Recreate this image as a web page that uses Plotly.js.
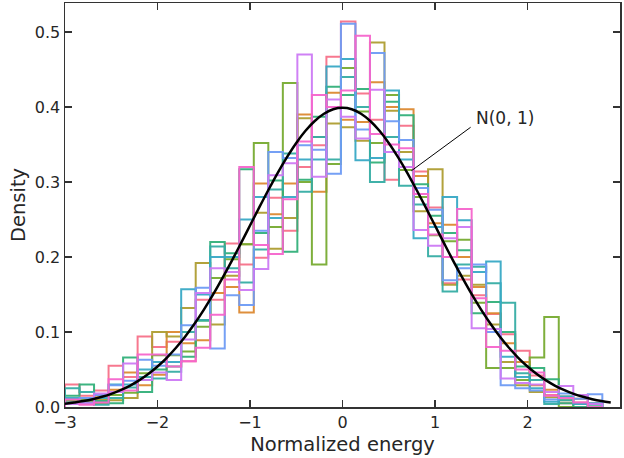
<!DOCTYPE html>
<html>
<head>
<meta charset="utf-8">
<script src="https://cdn.plot.ly/plotly-3.0.1.min.js"></script>
<style>html,body{margin:0;padding:0;background:#fff;}#chart{width:624px;height:458px;}</style>
</head>
<body>
<div id="chart"></div>
<script>
// Histogram bins (shared by all series)
const binStart = -3.0;
const binWidth = 0.157;
const binCount = 37;

// Series densities per bin
const pinkVals = [0.030,0.015,0.022,0.055,0.040,0.094,0.080,0.087,0.061,0.143,0.143,0.218,0.190,0.199,0.279,0.235,0.320,0.349,0.467,0.514,0.418,0.383,0.303,0.375,0.314,0.266,0.165,0.170,0.149,0.124,0.097,0.075,0.042,0.016,0.005,0.006,0.005];
const orangeVals = [0.010,0.008,0.015,0.023,0.046,0.029,0.043,0.100,0.085,0.089,0.152,0.160,0.126,0.298,0.257,0.298,0.390,0.287,0.419,0.383,0.380,0.433,0.400,0.397,0.308,0.245,0.243,0.200,0.160,0.125,0.085,0.060,0.029,0.023,0.009,0.011,0.000];
const oliveVals = [0.005,0.004,0.010,0.009,0.012,0.036,0.100,0.094,0.132,0.192,0.110,0.175,0.217,0.259,0.211,0.252,0.385,0.360,0.378,0.373,0.355,0.486,0.395,0.340,0.261,0.317,0.163,0.175,0.163,0.110,0.060,0.029,0.020,0.013,0.014,0.016,0.004];
const greenVals = [0.008,0.010,0.005,0.016,0.019,0.045,0.069,0.069,0.074,0.107,0.172,0.197,0.217,0.352,0.240,0.432,0.300,0.190,0.324,0.452,0.394,0.352,0.416,0.316,0.280,0.229,0.221,0.223,0.139,0.052,0.052,0.036,0.066,0.120,0.000,0.004,0.000];
const seaGreenVals = [0.015,0.030,0.008,0.005,0.066,0.020,0.050,0.054,0.067,0.115,0.220,0.205,0.317,0.232,0.302,0.207,0.303,0.387,0.427,0.416,0.424,0.326,0.407,0.389,0.297,0.255,0.232,0.209,0.125,0.140,0.100,0.054,0.052,0.037,0.005,0.000,0.003];
const tealVals = [0.025,0.020,0.003,0.012,0.026,0.040,0.038,0.047,0.100,0.116,0.214,0.185,0.166,0.210,0.290,0.338,0.287,0.360,0.330,0.440,0.400,0.300,0.360,0.295,0.270,0.201,0.154,0.190,0.187,0.165,0.139,0.045,0.036,0.004,0.009,0.005,0.000];
const cyanVals = [0.012,0.006,0.012,0.030,0.030,0.050,0.060,0.060,0.157,0.150,0.200,0.200,0.250,0.280,0.252,0.280,0.330,0.330,0.454,0.464,0.329,0.332,0.422,0.330,0.225,0.240,0.280,0.249,0.180,0.194,0.067,0.040,0.025,0.007,0.014,0.004,0.005];
const blueVals = [0.006,0.012,0.016,0.029,0.035,0.063,0.055,0.070,0.109,0.159,0.078,0.149,0.136,0.235,0.340,0.332,0.349,0.343,0.311,0.511,0.370,0.472,0.381,0.356,0.292,0.263,0.169,0.185,0.190,0.100,0.029,0.025,0.022,0.010,0.018,0.011,0.017];
const purpleVals = [0.004,0.005,0.018,0.020,0.058,0.036,0.046,0.036,0.090,0.152,0.185,0.180,0.156,0.184,0.309,0.325,0.470,0.307,0.410,0.387,0.358,0.423,0.340,0.320,0.236,0.215,0.225,0.240,0.105,0.104,0.038,0.032,0.030,0.020,0.028,0.016,0.004];
const magentaVals = [0.010,0.003,0.006,0.037,0.022,0.070,0.070,0.054,0.061,0.079,0.123,0.170,0.320,0.216,0.204,0.277,0.354,0.416,0.400,0.422,0.495,0.364,0.350,0.345,0.284,0.230,0.200,0.264,0.145,0.080,0.075,0.050,0.046,0.015,0.012,0.006,0.000];

const seriesColors = ['#f77189','#dc8932','#ae9d31','#77ab31','#33b07a','#36ada4','#38a9c5','#6e9bf4','#cc7af4','#f565cc'];

// Reference curve N(0, 1)
const curveX = [-3.0,-2.9,-2.8,-2.7,-2.6,-2.5,-2.4,-2.3,-2.2,-2.1,-2.0,-1.9,-1.8,-1.7,-1.6,-1.5,-1.4,-1.3,-1.2,-1.1,-1.0,-0.9,-0.8,-0.7,-0.6,-0.5,-0.4,-0.3,-0.2,-0.1,0.0,0.1,0.2,0.3,0.4,0.5,0.6,0.7,0.8,0.9,1.0,1.1,1.2,1.3,1.4,1.5,1.6,1.7,1.8,1.9,2.0,2.1,2.2,2.3,2.4,2.5,2.6,2.7,2.8,2.9];
const curveY = [0.0044,0.0060,0.0079,0.0104,0.0136,0.0175,0.0224,0.0283,0.0355,0.0440,0.0540,0.0656,0.0790,0.0940,0.1109,0.1295,0.1497,0.1714,0.1942,0.2179,0.2420,0.2661,0.2897,0.3123,0.3332,0.3521,0.3683,0.3814,0.3910,0.3970,0.3989,0.3970,0.3910,0.3814,0.3683,0.3521,0.3332,0.3123,0.2897,0.2661,0.2420,0.2179,0.1942,0.1714,0.1497,0.1295,0.1109,0.0940,0.0790,0.0656,0.0540,0.0440,0.0355,0.0283,0.0224,0.0175,0.0136,0.0104,0.0079,0.0060];

const xTicks = [-3,-2,-1,0,1,2,3];
const yTicks = [0.0,0.1,0.2,0.3,0.4,0.5];

const allSeries = [pinkVals,orangeVals,oliveVals,greenVals,seaGreenVals,tealVals,cyanVals,blueVals,purpleVals,magentaVals];

const edges = [];
for (let i = 0; i <= binCount; i++) edges.push(binStart + i * binWidth);

function stepTrace(vals, color) {
  const xs = [edges[0]], ys = [0];
  for (let i = 0; i < vals.length; i++) { xs.push(edges[i]); ys.push(vals[i]); }
  xs.push(edges[vals.length]); ys.push(vals[vals.length - 1]);
  xs.push(edges[vals.length]); ys.push(0);
  return {type:'scatter', mode:'lines', x:xs, y:ys, line:{shape:'hv', color:color, width:2}, opacity:0.95, hoverinfo:'skip', showlegend:false};
}

const traces = allSeries.map((v, i) => stepTrace(v, seriesColors[i]));
traces.push({type:'scatter', mode:'lines', x:curveX, y:curveY, line:{color:'#000', width:2.5, shape:'spline'}, showlegend:false});

const axisCommon = {
  showgrid:false, zeroline:false, showline:true, linecolor:'#333', linewidth:1.5,
  mirror:'allticks', ticks:'inside', ticklen:7, tickwidth:1.5, tickcolor:'#333',
  tickfont:{family:'DejaVu Sans', size:16, color:'#262626'}
};

const layout = {
  width:624, height:458,
  margin:{l:65, r:4, t:3, b:51},
  paper_bgcolor:'#fff', plot_bgcolor:'#fff',
  xaxis: Object.assign({}, axisCommon, {range:[-3,3], tickvals:xTicks,
    title:{text:'Normalized energy', font:{family:'DejaVu Sans', size:19.5, color:'#262626'}, standoff:6}}),
  yaxis: Object.assign({}, axisCommon, {range:[0,0.5387], tickvals:yTicks, tickformat:'.1f',
    title:{text:'Density', font:{family:'DejaVu Sans', size:19.5, color:'#262626'}, standoff:4}}),
  shapes:[{type:'line', xref:'x', yref:'y', x0:0.745, y0:0.315, x1:1.385, y1:0.373, line:{color:'#000', width:1}}],
  annotations:[{xref:'x', yref:'y', x:1.42, y:0.369, xanchor:'left', yanchor:'bottom', text:'N(0, 1)', showarrow:false,
    font:{family:'DejaVu Sans', size:17, color:'#262626'}}]
};

Plotly.newPlot('chart', traces, layout, {displayModeBar:false, staticPlot:true});
</script>
</body>
</html>
